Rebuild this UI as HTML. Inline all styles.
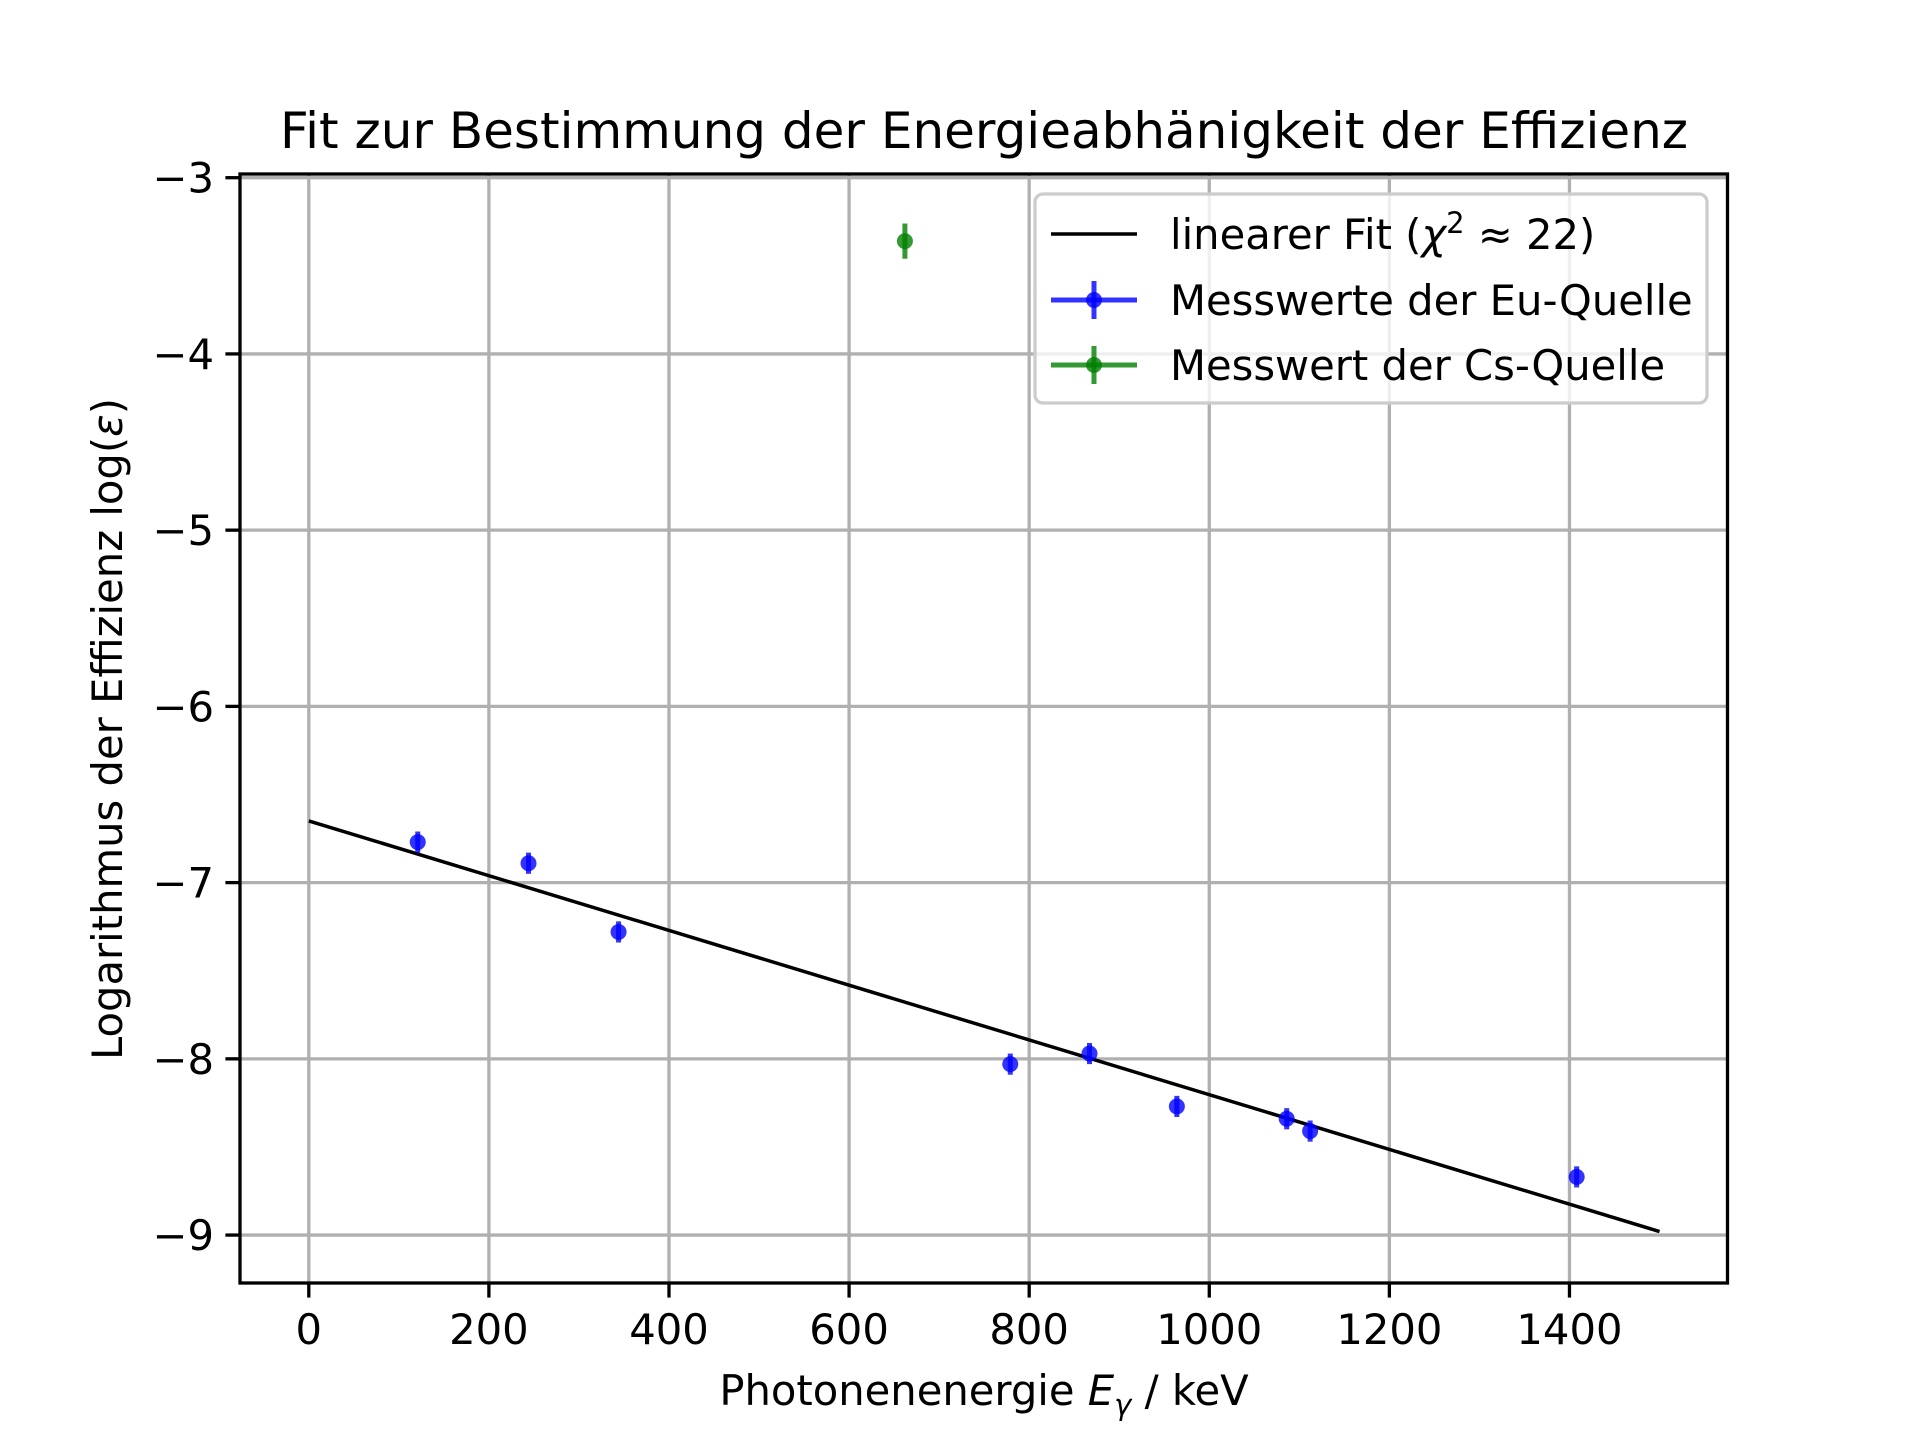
<!DOCTYPE html>
<html><head><meta charset="utf-8"><style>
html,body{margin:0;padding:0;background:#fff;}
svg{display:block;font-family:"DejaVu Sans","Liberation Sans",sans-serif;}
</style></head><body>
<svg id="chart" width="1920" height="1440" viewBox="0 0 1920 1440">
<rect width="1920" height="1440" fill="#fff"/>
<text x="984" y="148" font-size="50" text-anchor="middle">Fit zur Bestimmung der Energieabhänigkeit der Effizienz</text>
<g id="grid"></g><g id="marks"></g><g id="axes"></g>
<text x="984" y="1405" font-size="41.7" text-anchor="middle">Photonenenergie <tspan font-style="italic">E</tspan><tspan font-style="italic" font-size="29" dy="10">γ</tspan><tspan dy="-10"> / keV</tspan></text>
<text transform="translate(122,729) rotate(-90)" font-size="41.7" text-anchor="middle">Logarithmus der Effizienz log(<tspan font-style="italic">ε</tspan>)</text>
<g>
<rect x="1035" y="194" width="672" height="209" rx="8" fill="#fff" fill-opacity="0.8" stroke="#ccc" stroke-width="3.3"/>
<line x1="1051" y1="234" x2="1137" y2="234" stroke="#000" stroke-width="3.5"/>
<text x="1170" y="249" font-size="41.7">linearer Fit (<tspan font-style="italic">χ</tspan><tspan font-size="29" dy="-16">2</tspan><tspan dy="16"> ≈ 22)</tspan></text>
<g><line x1="1051" y1="300" x2="1137" y2="300" stroke="#0000ff" stroke-opacity="0.8" stroke-width="5"/><line x1="1094" y1="281" x2="1094" y2="319" stroke="#0000ff" stroke-opacity="0.8" stroke-width="5"/><circle cx="1094" cy="300" r="8" fill="#0000ff" fill-opacity="0.8"/></g>
<text x="1170" y="315" font-size="41.7">Messwerte der Eu-Quelle</text>
<g><line x1="1051" y1="365" x2="1137" y2="365" stroke="#008000" stroke-opacity="0.8" stroke-width="5"/><line x1="1094" y1="346" x2="1094" y2="384" stroke="#008000" stroke-opacity="0.8" stroke-width="5"/><circle cx="1094" cy="365" r="8" fill="#008000" fill-opacity="0.8"/></g>
<text x="1170" y="380" font-size="41.7">Messwert der Cs-Quelle</text>
</g>
</svg>
<script>
const xTicks = [0, 200, 400, 600, 800, 1000, 1200, 1400];
const yTicks = [-3, -4, -5, -6, -7, -8, -9];
const euEnergy = [121, 244, 344, 779, 867, 964, 1086, 1112, 1408];
const euLogEff = [-6.77, -6.89, -7.28, -8.03, -7.97, -8.27, -8.34, -8.41, -8.67];
const euErr = [0.06, 0.06, 0.06, 0.06, 0.06, 0.06, 0.06, 0.06, 0.06];
const csEnergy = [662];
const csLogEff = [-3.36];
const csErr = [0.1];
const fitX = [0, 1500];
const fitY = [-6.65, -8.98];

const L=240,R=1727.5,T=174,B=1283;
const xmin=-76.4,xmax=1575.5,ymin=-9.272,ymax=-2.979;
const sx=v=>L+(v-xmin)/(xmax-xmin)*(R-L);
const sy=v=>B-(v-ymin)/(ymax-ymin)*(B-T);
const NS="http://www.w3.org/2000/svg";
function mk(tag,attrs,parent){const e=document.createElementNS(NS,tag);for(const k in attrs)e.setAttribute(k,attrs[k]);parent.appendChild(e);return e;}
const grid=document.getElementById('grid'),marks=document.getElementById('marks'),axes=document.getElementById('axes');
xTicks.forEach(t=>{
  const g=mk('line',{x1:sx(t),x2:sx(t),y1:T,y2:B,stroke:'#b0b0b0','stroke-width':3.3},grid);
  
  
  mk('line',{x1:sx(t),x2:sx(t),y1:B,y2:B+14.6,stroke:'#000','stroke-width':3.3},axes);
  const tx=mk('text',{x:sx(t),y:B+61,'font-size':41.7,'text-anchor':'middle'},axes);
  tx.textContent=String(t);
  
  
});
yTicks.forEach(t=>{
  const g=mk('line',{x1:L,x2:R,y1:sy(t),y2:sy(t),stroke:'#b0b0b0','stroke-width':3.3},grid);
  
  
  mk('line',{x1:L-14.6,x2:L,y1:sy(t),y2:sy(t),stroke:'#000','stroke-width':3.3},axes);
  const tx=mk('text',{x:L-26,y:sy(t)+15,'font-size':41.7,'text-anchor':'end'},axes);
  tx.textContent='\u2212'+Math.abs(t);
  
  
});
const frame=mk('rect',{x:L,y:T,width:R-L,height:B-T,fill:'none',stroke:'#000','stroke-width':3.3},axes);


const fit=mk('line',{x1:sx(fitX[0]),y1:sy(fitY[0]),x2:sx(fitX[1]),y2:sy(fitY[1]),stroke:'#000','stroke-width':3.5},marks);


function pts(xs,ys,es,color,name){
  xs.forEach((x,i)=>{
    const g=mk('g',{},marks);
    
    
    mk('line',{x1:sx(x),x2:sx(x),y1:sy(ys[i]+es[i]),y2:sy(ys[i]-es[i]),stroke:color,'stroke-opacity':0.8,'stroke-width':5},g);
    mk('circle',{cx:sx(x),cy:sy(ys[i]),r:8,fill:color,'fill-opacity':0.8},g);
  });
}
pts(euEnergy,euLogEff,euErr,'#0000ff','eu-point');
pts(csEnergy,csLogEff,csErr,'#008000','cs-point');
</script>
</body></html>
